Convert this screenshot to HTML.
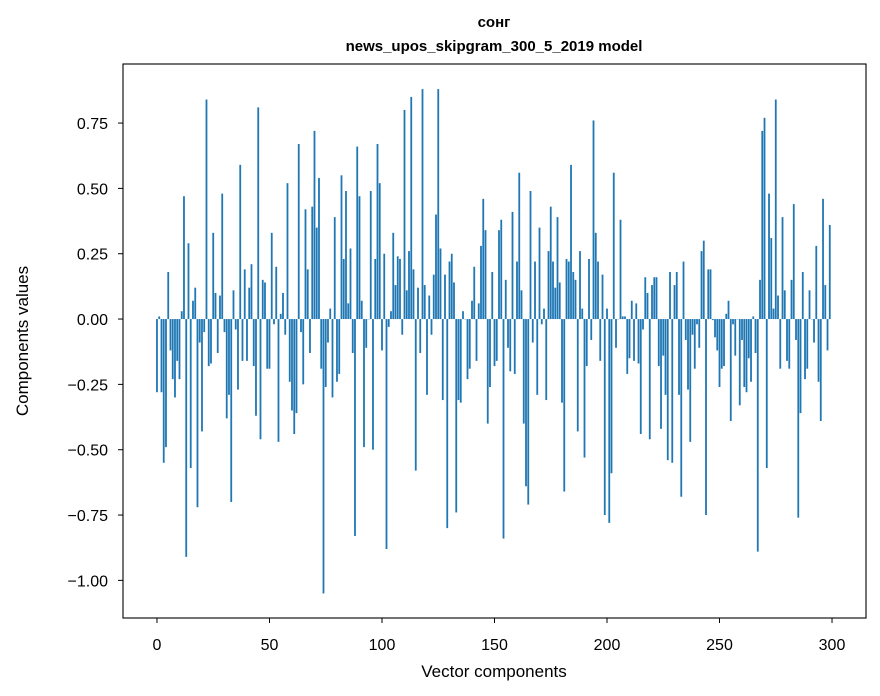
<!DOCTYPE html>
<html><head><meta charset="utf-8"><style>
body{margin:0;background:#fff;}
svg{display:block;font-family:"Liberation Sans","DejaVu Sans",sans-serif;}
</style></head><body>
<svg id="chart" width="880" height="696" viewBox="0 0 880 696" xmlns="http://www.w3.org/2000/svg">
<rect width="880" height="696" fill="#fff"/>
<text x="494" y="27" text-anchor="middle" font-size="15" font-weight="bold">сонг</text>
<text x="494" y="51" text-anchor="middle" font-size="15" font-weight="bold">news_upos_skipgram_300_5_2019 model</text>
<g id="bars"></g>
<g id="xticks"></g>
<g id="yticks"></g>
<rect x="123" y="64" width="743" height="554" fill="none" stroke="#000" stroke-width="1.1"/>
<text x="494" y="677" text-anchor="middle" font-size="17">Vector components</text>
<text transform="translate(28,341) rotate(-90)" text-anchor="middle" font-size="17">Components values</text>
</svg>
<script>
const values = [
-0.28,0.01,-0.28,-0.55,-0.49,0.18,-0.12,-0.23,-0.30,-0.16,
-0.23,0.03,0.47,-0.91,0.29,-0.57,0.07,0.12,-0.72,-0.09,
-0.43,-0.05,0.84,-0.18,-0.17,0.33,0.10,-0.13,0.09,0.48,
-0.05,-0.38,-0.29,-0.70,0.11,-0.04,-0.27,0.59,-0.16,0.19,
-0.16,0.12,0.21,-0.18,-0.37,0.81,-0.46,0.15,0.14,-0.19,
-0.19,0.33,-0.02,0.20,-0.47,0.02,0.10,-0.06,0.52,-0.24,
-0.35,-0.44,-0.36,0.67,-0.05,-0.25,0.42,0.19,-0.13,0.43,
0.72,0.35,0.54,-0.19,-1.05,-0.26,-0.09,0.04,-0.30,0.39,
-0.24,-0.21,0.55,0.23,0.49,0.06,0.27,-0.13,-0.83,0.66,
0.47,0.07,-0.49,-0.11,0.00,0.49,-0.50,0.23,0.67,0.52,
-0.12,0.25,-0.88,-0.03,0.03,0.33,0.13,0.24,0.23,-0.06,
0.80,0.11,0.26,0.85,0.19,-0.58,0.12,-0.13,0.88,0.13,
-0.29,0.09,-0.06,0.17,0.40,0.88,0.27,-0.31,0.17,-0.80,
0.22,0.25,0.14,-0.74,-0.31,-0.32,0.03,0.00,-0.23,-0.19,
0.07,0.20,-0.16,0.06,0.28,0.46,0.34,-0.40,-0.26,0.18,
-0.18,-0.16,0.34,0.38,-0.84,0.15,-0.11,-0.20,0.41,-0.21,
0.22,0.56,0.11,-0.40,-0.64,-0.71,0.49,-0.09,0.22,-0.29,
0.35,-0.02,0.04,-0.31,0.26,0.43,0.22,0.12,0.39,0.14,
-0.32,-0.66,0.23,0.22,0.59,0.18,0.15,-0.43,0.26,0.04,
-0.53,-0.18,0.23,-0.08,0.76,0.33,0.22,-0.16,0.17,-0.75,
0.04,-0.78,-0.59,0.56,-0.11,0.00,0.38,0.01,0.01,-0.21,
-0.15,0.07,-0.16,0.06,-0.17,-0.44,-0.04,0.16,0.10,-0.46,
0.13,0.16,0.16,-0.18,-0.42,-0.14,-0.29,-0.54,0.18,-0.55,
0.13,0.18,-0.29,-0.68,0.22,-0.08,-0.27,-0.47,-0.06,-0.19,
-0.02,-0.11,0.26,0.30,-0.75,0.19,0.19,-0.004,-0.07,-0.12,
-0.26,-0.19,-0.18,0.02,0.07,-0.39,-0.02,-0.14,0.00,-0.33,
-0.08,-0.26,-0.28,-0.15,-0.24,0.01,-0.13,-0.89,0.15,0.72,
0.77,-0.57,0.48,0.31,0.04,0.84,0.09,-0.19,0.39,0.11,
-0.16,-0.19,0.15,0.44,-0.08,-0.76,-0.36,0.18,-0.23,-0.19,
0.11,0.00,-0.09,0.28,-0.24,-0.39,0.46,0.13,-0.12,0.36
];
const xTicks = [0,50,100,150,200,250,300];
const yTicks = [-1.00,-0.75,-0.50,-0.25,0.00,0.25,0.50,0.75];

const X0=123, X1=866, Y0=64, Y1=618;
const xMin=-15.1, xMax=315.1, yMin=-1.144, yMax=0.976;
function sx(v){return X0+(v-xMin)/(xMax-xMin)*(X1-X0);}
function sy(v){return Y1-(v-yMin)/(yMax-yMin)*(Y1-Y0);}
const NS="http://www.w3.org/2000/svg";
const bars=document.getElementById('bars');
const bw=0.8*(X1-X0)/(xMax-xMin);
values.forEach((v,i)=>{
  const r=document.createElementNS(NS,'rect');
  const y0=sy(0), y1=sy(v);
  r.setAttribute('x',sx(i)-bw/2);
  r.setAttribute('width',bw);
  r.setAttribute('y',Math.min(y0,y1));
  r.setAttribute('height',Math.max(0.3,Math.abs(y1-y0)));
  r.setAttribute('fill','#1f77b4');
  
  
  bars.appendChild(r);
});
const xg=document.getElementById('xticks');
xTicks.forEach(t=>{
  const l=document.createElementNS(NS,'line');
  l.setAttribute('x1',sx(t));l.setAttribute('x2',sx(t));
  l.setAttribute('y1',Y1);l.setAttribute('y2',Y1+5);
  l.setAttribute('stroke','#000');
  
  
  xg.appendChild(l);
  const tx=document.createElementNS(NS,'text');
  tx.setAttribute('x',sx(t));tx.setAttribute('y',Y1+32);
  tx.setAttribute('text-anchor','middle');tx.setAttribute('font-size','16');
  tx.textContent=t;
  
  
  xg.appendChild(tx);
});
const yg=document.getElementById('yticks');
yTicks.forEach(t=>{
  const l=document.createElementNS(NS,'line');
  l.setAttribute('x1',X0-5);l.setAttribute('x2',X0);
  l.setAttribute('y1',sy(t));l.setAttribute('y2',sy(t));
  l.setAttribute('stroke','#000');
  
  
  yg.appendChild(l);
  const tx=document.createElementNS(NS,'text');
  tx.setAttribute('x',X0-15);tx.setAttribute('y',sy(t)+6);
  tx.setAttribute('text-anchor','end');tx.setAttribute('font-size','16');
  tx.textContent=(t<0?'\u2212':'')+Math.abs(t).toFixed(2);
  
  
  yg.appendChild(tx);
});
</script>
</body></html>
